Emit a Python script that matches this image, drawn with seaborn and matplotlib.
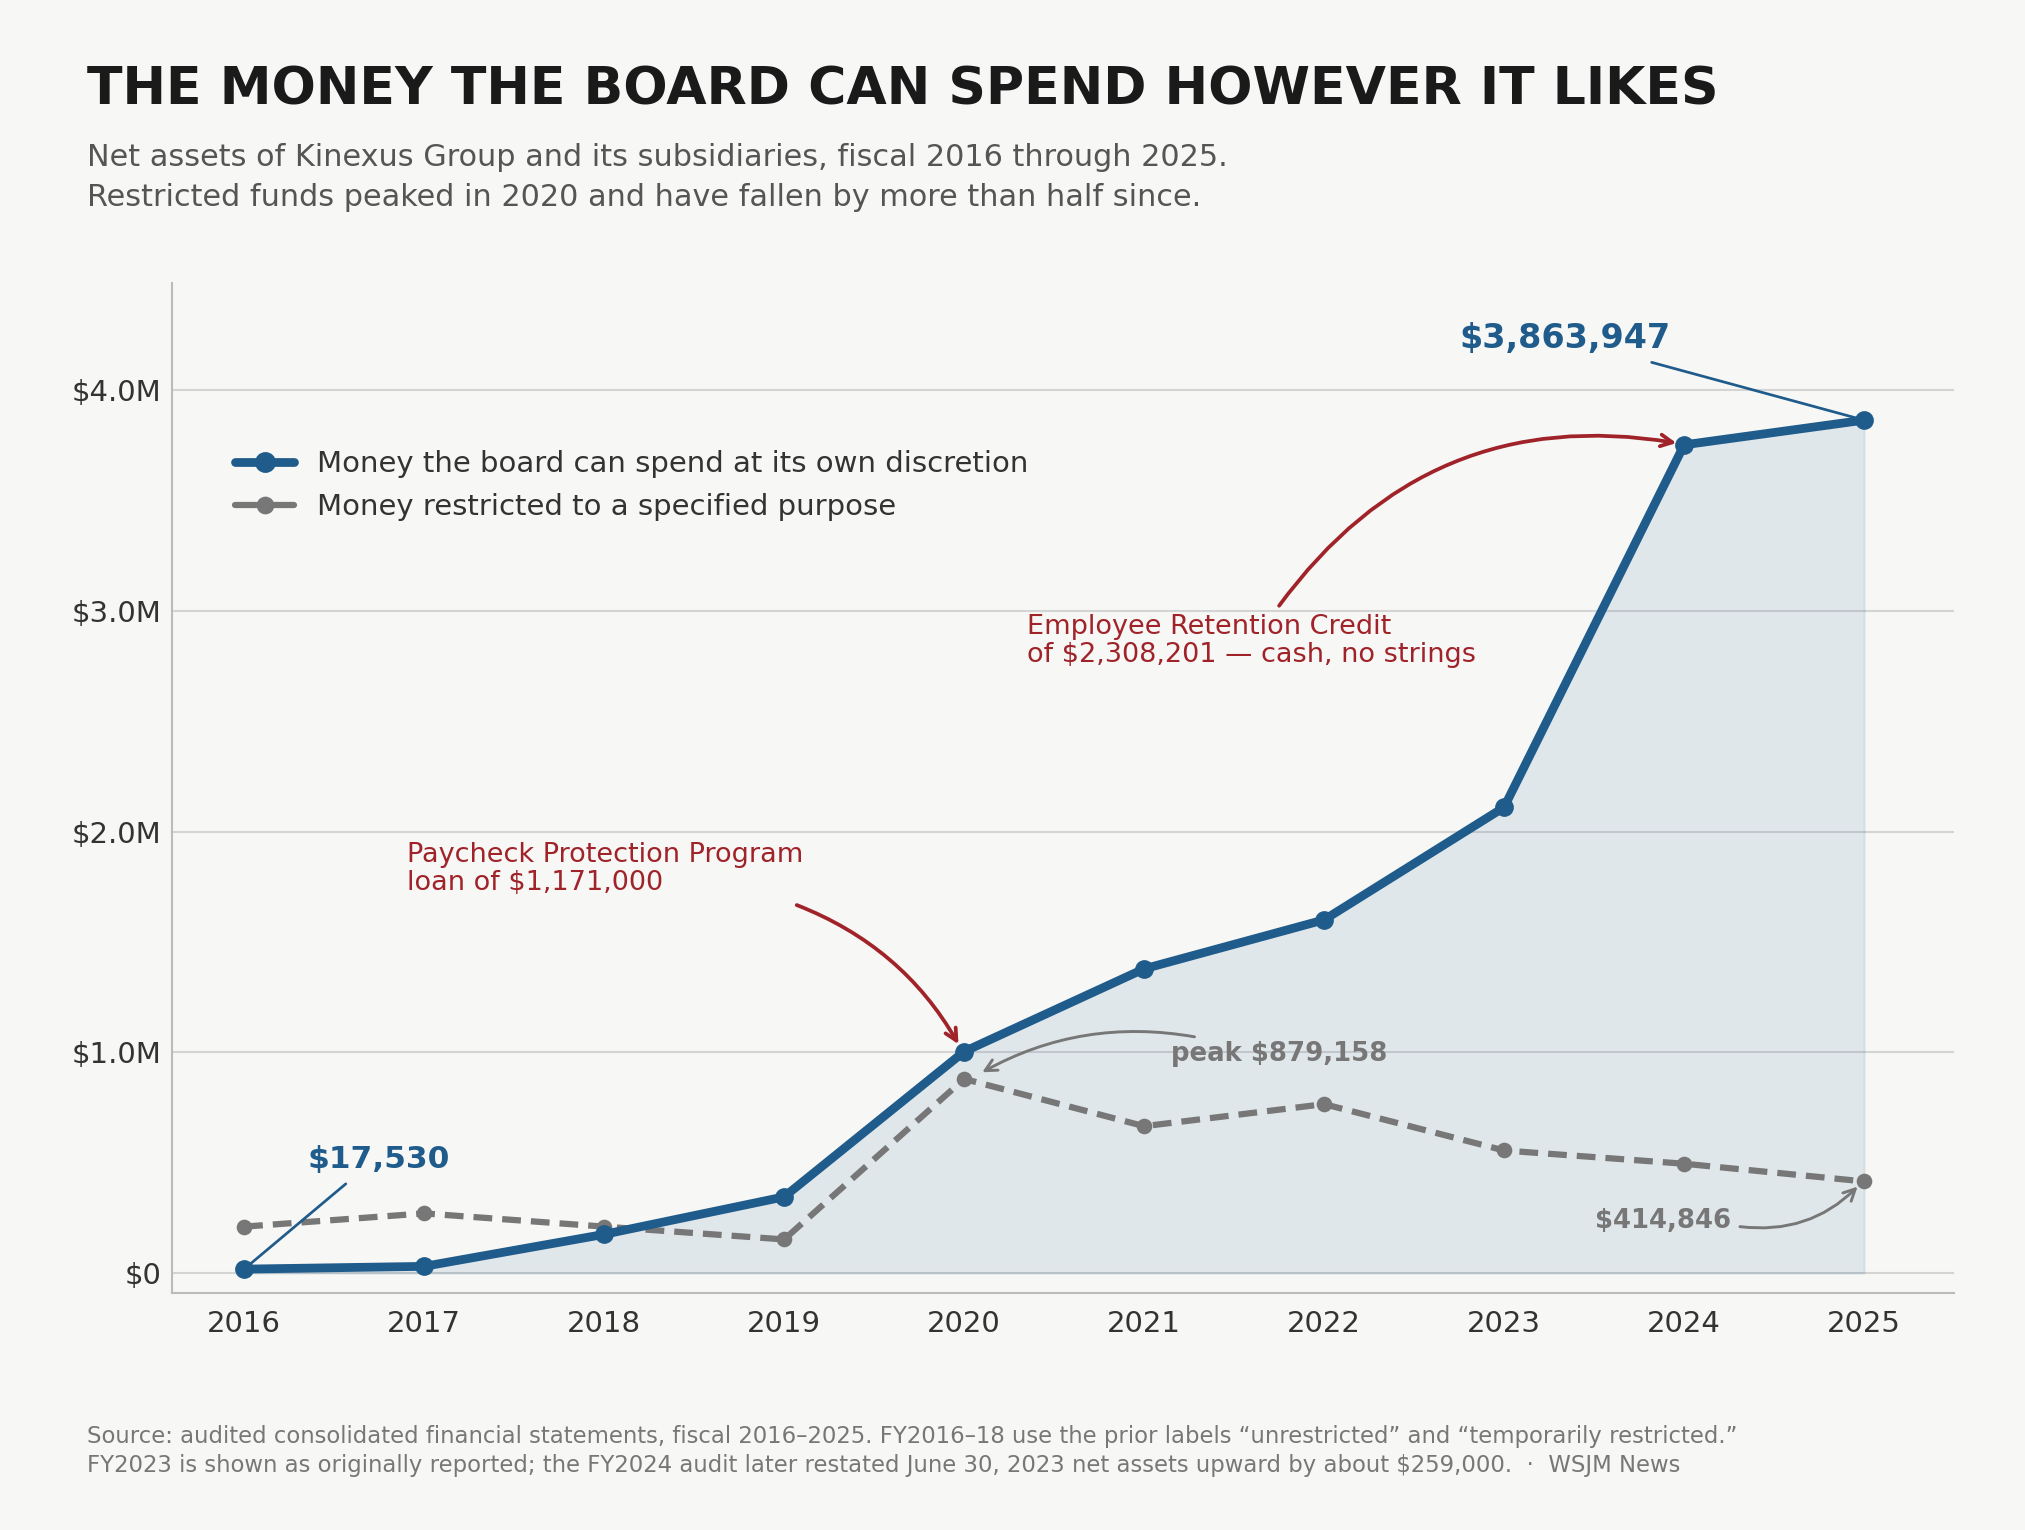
import numpy as np
import pandas as pd
import matplotlib
matplotlib.use("Agg")
import matplotlib.pyplot as plt
from matplotlib.lines import Line2D
import seaborn as sns

# Data (dollars)
years = [2016, 2017, 2018, 2019, 2020, 2021, 2022, 2023, 2024, 2025]
unrestricted = [17530, 30000, 175000, 345000, 1003000, 1378000, 1600000, 2110000, 3752000, 3863947]
restricted = [210000, 270000, 210000, 152000, 879158, 665000, 765000, 555000, 495000, 414846]
y_ticks = [0, 1_000_000, 2_000_000, 3_000_000, 4_000_000]
y_tick_labels = ["$0", "$1.0M", "$2.0M", "$3.0M", "$4.0M"]

BLUE = "#1f5b8b"
GRAY = "#777777"
RED = "#a0232a"
BG = "#f7f7f5"

sns.set_style("white")
plt.rcParams["font.family"] = ["DejaVu Sans"]

df = pd.DataFrame({"year": years, "unrestricted": unrestricted, "restricted": restricted})

fig, ax = plt.subplots(figsize=(13.5, 10.2), dpi=150)
fig.patch.set_facecolor(BG)
ax.set_facecolor(BG)
fig.subplots_adjust(left=0.085, right=0.965, top=0.815, bottom=0.155)

ax.fill_between(df["year"], 0, df["unrestricted"], color=BLUE, alpha=0.1, lw=1, zorder=1)
sns.lineplot(data=df, x="year", y="restricted", ax=ax, color=GRAY, lw=3, ls=(0, (3, 1.6)),
             marker="o", markersize=7.5, markeredgewidth=0, zorder=3)
sns.lineplot(data=df, x="year", y="unrestricted", ax=ax, color=BLUE, lw=4.2, marker="o",
             markersize=9, markeredgewidth=0, zorder=4)

ax.set_xlim(2015.6, 2025.5)
ax.set_ylim(-90000, 4_485_000)
ax.set_xticks(years)
ax.set_yticks(y_ticks)
ax.set_yticklabels(y_tick_labels)
ax.set_xlabel("")
ax.set_ylabel("")
ax.tick_params(axis="both", labelsize=14, colors="#333333", length=0)
ax.tick_params(axis="y", pad=5)
ax.tick_params(axis="x", pad=8)
ax.grid(axis="y", color="#d4d4d4", lw=1, zorder=0)
ax.set_axisbelow(True)
for side in ["top", "right"]:
    ax.spines[side].set_visible(False)
for side in ["left", "bottom"]:
    ax.spines[side].set_color("#bbbbbb")
    ax.spines[side].set_linewidth(1)

handles = [
    Line2D([], [], color=BLUE, lw=4.2, marker="o", markersize=9),
    Line2D([], [], color=GRAY, lw=3, marker="o", markersize=7.5),
]
ax.legend(handles, ["Money the board can spend at its own discretion",
                    "Money restricted to a specified purpose"],
          loc="upper left", bbox_to_anchor=(0.029, 0.846), frameon=False,
          fontsize=14, labelcolor="#333333", handlelength=2.0, borderaxespad=0,
          labelspacing=0.5)

# annotations
ax.annotate("$3,863,947", xy=(2025, 3863947), xytext=(2023.34, 4_234_000),
            ha="center", va="center", fontsize=16, fontweight="bold", color=BLUE,
            arrowprops=dict(arrowstyle="-", color=BLUE, lw=1.3, shrinkA=5, shrinkB=4,
                            relpos=(0.78, 0)))
ax.annotate("$17,530", xy=(2016, 17530), xytext=(2016.75, 515_000),
            ha="center", va="center", fontsize=15, fontweight="bold", color=BLUE,
            arrowprops=dict(arrowstyle="-", color=BLUE, lw=1.3, shrinkA=4, shrinkB=2,
                            relpos=(0.35, 0)))

ax.text(2020.35, 2_865_000, "Employee Retention Credit\nof $2,308,201 \u2014 cash, no strings",
        ha="left", va="center", fontsize=13, color=RED, linespacing=1.1)
ax.annotate("", xy=(2023.98, 3_757_000), xytext=(2021.75, 3_023_000),
            arrowprops=dict(arrowstyle="->", color=RED, lw=1.8, shrinkA=0, shrinkB=2,
                            connectionstyle="arc3,rad=-0.31", mutation_scale=14))

ax.text(2016.905, 1_830_000, "Paycheck Protection Program\nloan of $1,171,000",
        ha="left", va="center", fontsize=13, color=RED, linespacing=1.1)
ax.annotate("", xy=(2019.98, 1_020_000), xytext=(2019.07, 1_667_000),
            arrowprops=dict(arrowstyle="->", color=RED, lw=1.8, shrinkA=0, shrinkB=2,
                            connectionstyle="arc3,rad=-0.18", mutation_scale=14))

ax.text(2021.15, 994_000, "peak $879,158", ha="left", va="center", fontsize=12.5,
        fontweight="bold", color=GRAY)
ax.annotate("", xy=(2020.08, 900_000), xytext=(2021.28, 1_070_000),
            arrowprops=dict(arrowstyle="->", color=GRAY, lw=1.4, shrinkA=0, shrinkB=2,
                            connectionstyle="arc3,rad=0.18", mutation_scale=14))

ax.text(2024.26, 234_000, "$414,846", ha="right", va="center", fontsize=12.5,
        fontweight="bold", color=GRAY)
ax.annotate("", xy=(2024.98, 405_000), xytext=(2024.31, 210_000),
            arrowprops=dict(arrowstyle="->", color=GRAY, lw=1.4, shrinkA=0, shrinkB=2,
                            connectionstyle="arc3,rad=0.25", mutation_scale=14))

# titles and footer
fig.text(0.043, 0.941, "THE MONEY THE BOARD CAN SPEND HOWEVER IT LIKES", ha="left",
         va="center", fontsize=25, fontweight="bold", color="#1a1a1a")
fig.text(0.043, 0.884, "Net assets of Kinexus Group and its subsidiaries, fiscal 2016 through 2025.\n"
         "Restricted funds peaked in 2020 and have fallen by more than half since.",
         ha="left", va="center", fontsize=14.5, color="#555555", linespacing=1.5)
fig.text(0.043, 0.0515,
         "Source: audited consolidated financial statements, fiscal 2016\u20132025. FY2016\u201318 use the prior labels "
         "\u201cunrestricted\u201d and \u201ctemporarily restricted.\u201d\n"
         "FY2023 is shown as originally reported; the FY2024 audit later restated June 30, 2023 net assets "
         "upward by about $259,000.  \u00b7  WSJM News",
         ha="left", va="center", fontsize=10.95, color="#777777", linespacing=1.35)

fig.savefig("out.png", dpi=150, facecolor=BG)
